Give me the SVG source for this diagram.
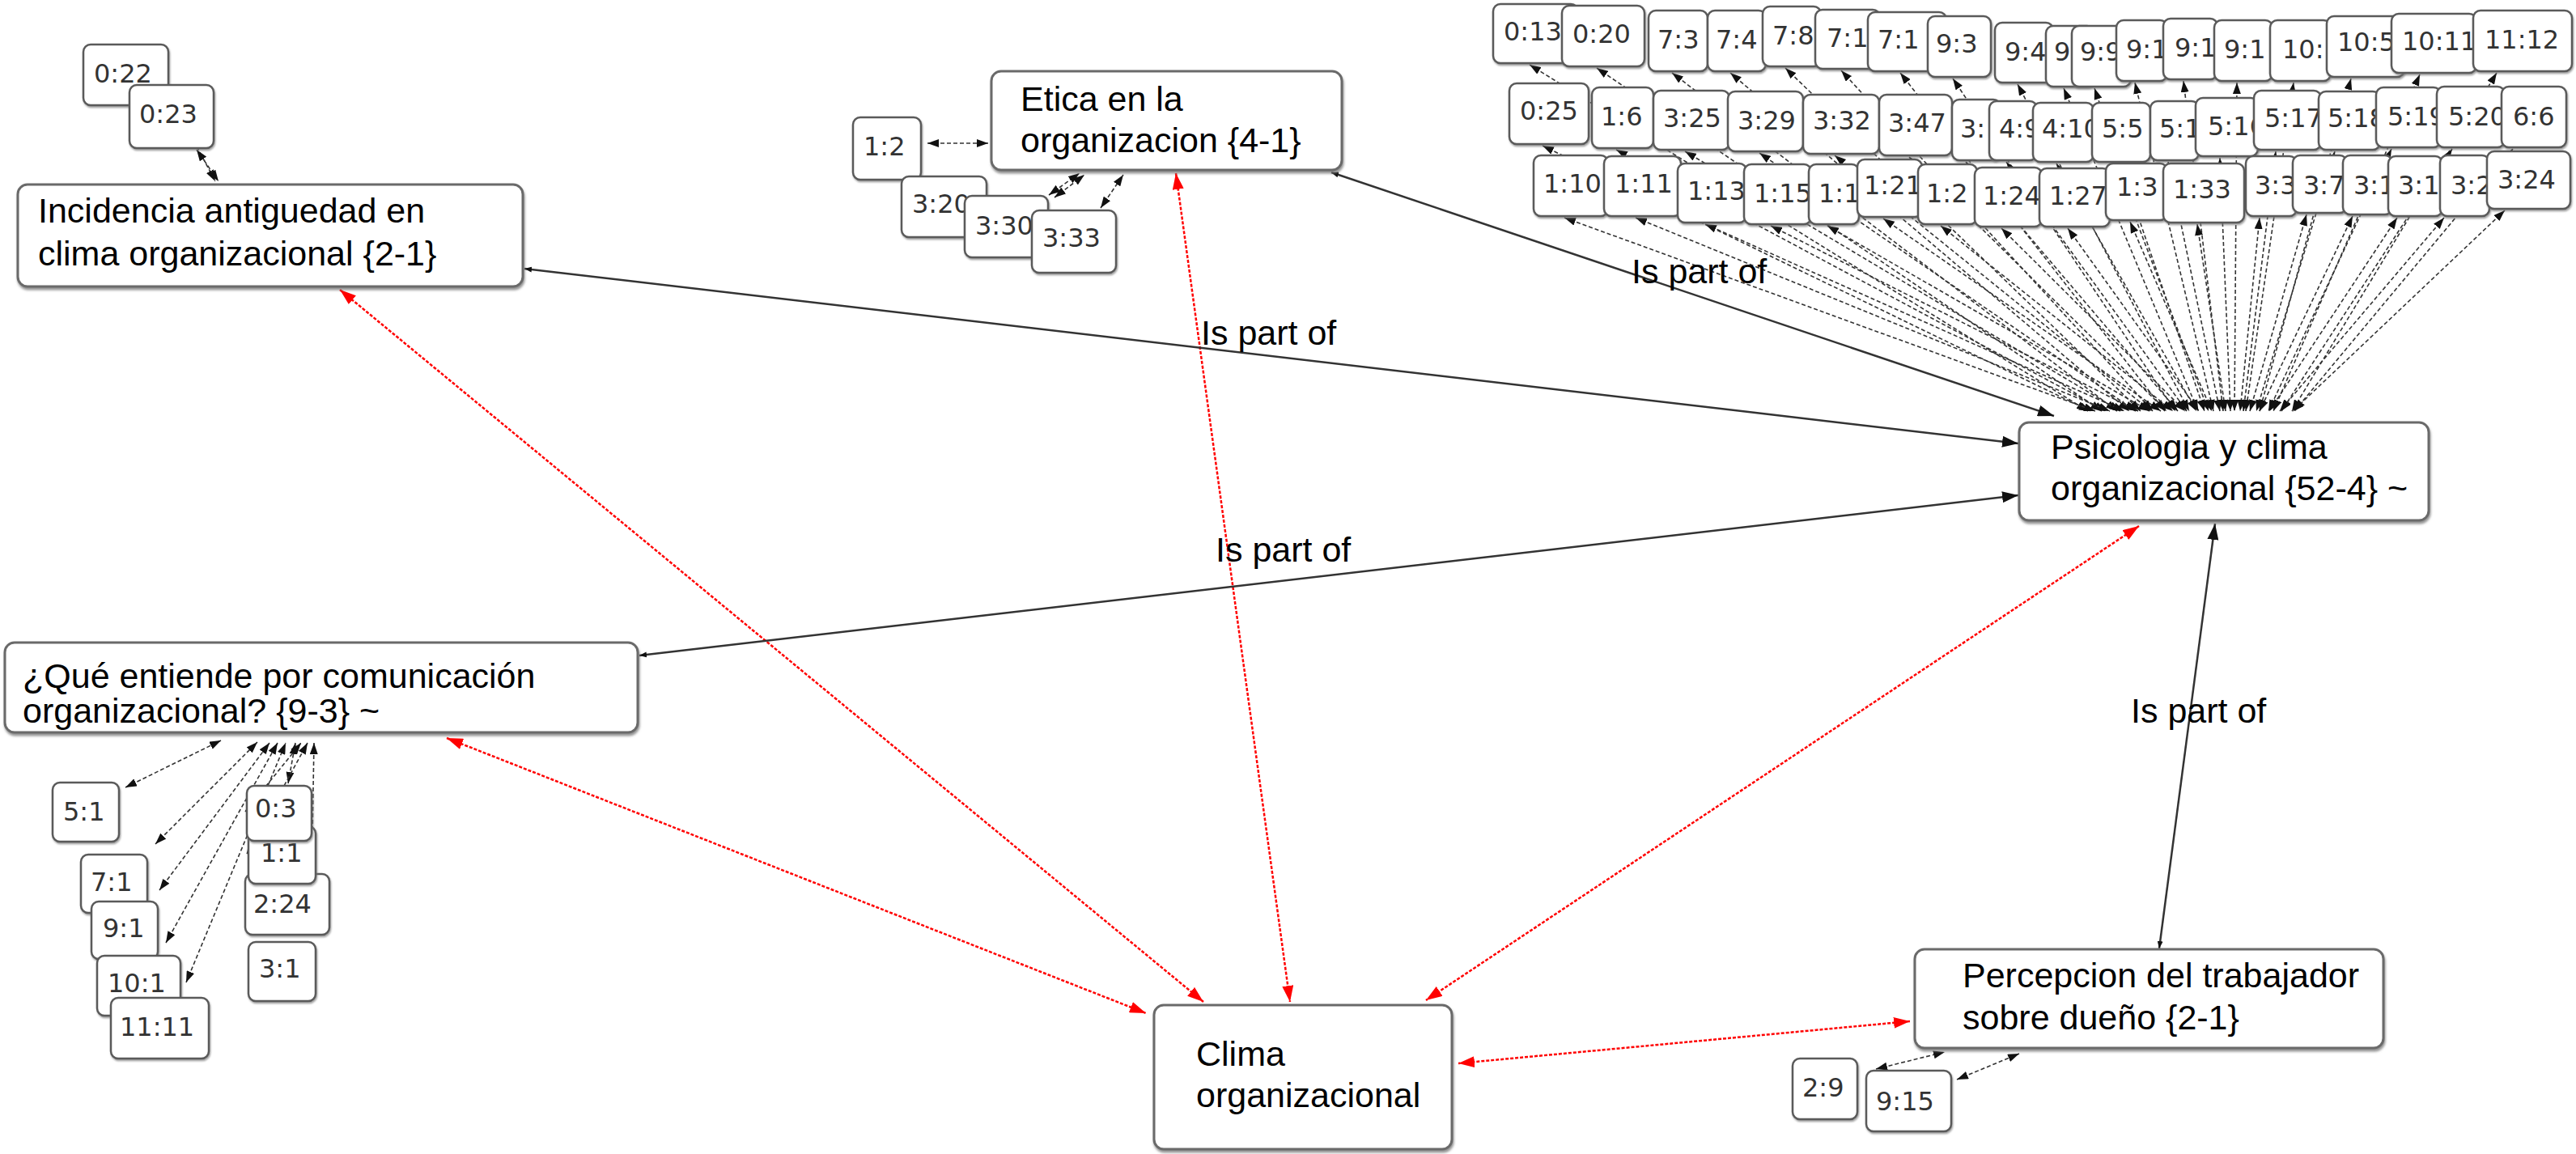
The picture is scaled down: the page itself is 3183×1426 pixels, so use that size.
<svg xmlns="http://www.w3.org/2000/svg" width="3183" height="1426" viewBox="0 0 3183 1426">
<style>
.n rect{fill:#fff;stroke:#6a6a6a;stroke-width:3;filter:url(#sh)}
.n text{font-family:"Liberation Sans",Arial,Helvetica,sans-serif;font-size:43px;fill:#000}
.q rect{fill:#fff;stroke:#5a5a5a;stroke-width:2.5;filter:url(#sh2)}
.q text{font-family:"DejaVu Sans",Verdana,sans-serif;font-size:32px;fill:#333}
.d{fill:none;stroke:#333;stroke-width:1.6;stroke-dasharray:5 3;marker-start:url(#ab);marker-end:url(#ab)}
.r{fill:none;stroke:#f00;stroke-width:2.5;stroke-dasharray:4 2;marker-start:url(#ar);marker-end:url(#ar)}
.p{fill:none;stroke:#333;stroke-width:2.5;marker-start:url(#as);marker-end:url(#abig)}
.l{font-family:"Liberation Sans",Arial,Helvetica,sans-serif;font-size:43px;fill:#000}
</style>
<defs>
<filter id="sh" x="-5%" y="-5%" width="110%" height="115%"><feDropShadow dx="1" dy="3" stdDeviation="1.5" flood-color="#777" flood-opacity="0.8"/></filter>
<filter id="sh2" x="-10%" y="-10%" width="120%" height="125%"><feDropShadow dx="1" dy="2" stdDeviation="1" flood-color="#777" flood-opacity="0.7"/></filter>
<marker id="ab" markerUnits="userSpaceOnUse" markerWidth="14" markerHeight="10" refX="14" refY="5" orient="auto-start-reverse"><path d="M0,0 L14,5 L0,10 z" fill="#111"/></marker>
<marker id="ar" markerUnits="userSpaceOnUse" markerWidth="20" markerHeight="14" refX="20" refY="7" orient="auto-start-reverse"><path d="M0,0 L20,7 L0,14 z" fill="#f00"/></marker>
<marker id="abig" markerUnits="userSpaceOnUse" markerWidth="20" markerHeight="14" refX="20" refY="7" orient="auto"><path d="M0,0 L20,7 L0,14 z" fill="#111"/></marker>
<marker id="as" markerUnits="userSpaceOnUse" markerWidth="9" markerHeight="7" refX="9" refY="3.5" orient="auto-start-reverse"><path d="M0,0 L9,3.5 L0,7 z" fill="#111"/></marker>
</defs>
<rect width="3183" height="1426" fill="#fff"/>
<g id="connectors">
<!-- top cluster fan to Psicologia -->
<line class="d" x1="1890" y1="80" x2="2580" y2="508"/>
<line class="d" x1="1973" y1="84" x2="2597" y2="508"/>
<line class="d" x1="2066" y1="90" x2="2616" y2="508"/>
<line class="d" x1="2138" y1="90" x2="2631" y2="508"/>
<line class="d" x1="2206" y1="84" x2="2645" y2="508"/>
<line class="d" x1="2275" y1="87" x2="2660" y2="508"/>
<line class="d" x1="2348" y1="90" x2="2675" y2="508"/>
<line class="d" x1="2413" y1="97" x2="2688" y2="508"/>
<line class="d" x1="2493" y1="104" x2="2705" y2="508"/>
<line class="d" x1="2550" y1="109" x2="2716" y2="508"/>
<line class="d" x1="2588" y1="109" x2="2724" y2="508"/>
<line class="d" x1="2638" y1="102" x2="2735" y2="508"/>
<line class="d" x1="2698" y1="100" x2="2747" y2="508"/>
<line class="d" x1="2764" y1="102" x2="2761" y2="508"/>
<line class="d" x1="2834" y1="102" x2="2775" y2="508"/>
<line class="d" x1="2905" y1="97" x2="2792" y2="508"/>
<line class="d" x1="2990" y1="92" x2="2809" y2="508"/>
<line class="d" x1="3085" y1="90" x2="2832" y2="508"/>
<line class="d" x1="1906" y1="180" x2="2583" y2="508"/>
<line class="d" x1="1997" y1="185" x2="2602" y2="508"/>
<line class="d" x1="2082" y1="187" x2="2620" y2="508"/>
<line class="d" x1="2174" y1="189" x2="2639" y2="508"/>
<line class="d" x1="2267" y1="192" x2="2658" y2="508"/>
<line class="d" x1="2359" y1="194" x2="2677" y2="508"/>
<line class="d" x1="2429" y1="200" x2="2691" y2="508"/>
<line class="d" x1="2479" y1="200" x2="2702" y2="508"/>
<line class="d" x1="2541" y1="202" x2="2714" y2="508"/>
<line class="d" x1="2613" y1="202" x2="2729" y2="508"/>
<line class="d" x1="2679" y1="200" x2="2743" y2="508"/>
<line class="d" x1="2743" y1="195" x2="2756" y2="508"/>
<line class="d" x1="2812" y1="187" x2="2772" y2="508"/>
<line class="d" x1="2885" y1="187" x2="2788" y2="508"/>
<line class="d" x1="2955" y1="184" x2="2803" y2="508"/>
<line class="d" x1="3030" y1="184" x2="2819" y2="508"/>
<line class="d" x1="3105" y1="184" x2="2835" y2="508"/>
<line class="d" x1="1933" y1="269" x2="2589" y2="508"/>
<line class="d" x1="2021" y1="269" x2="2607" y2="508"/>
<line class="d" x1="2107" y1="277" x2="2625" y2="508"/>
<line class="d" x1="2188" y1="279" x2="2642" y2="508"/>
<line class="d" x1="2258" y1="279" x2="2656" y2="508"/>
<line class="d" x1="2327" y1="270" x2="2670" y2="508"/>
<line class="d" x1="2398" y1="279" x2="2685" y2="508"/>
<line class="d" x1="2473" y1="282" x2="2700" y2="508"/>
<line class="d" x1="2555" y1="282" x2="2717" y2="508"/>
<line class="d" x1="2632" y1="274" x2="2733" y2="508"/>
<line class="d" x1="2715" y1="277" x2="2750" y2="508"/>
<line class="d" x1="2792" y1="269" x2="2768" y2="508"/>
<line class="d" x1="2850" y1="265" x2="2780" y2="508"/>
<line class="d" x1="2907" y1="267" x2="2792" y2="508"/>
<line class="d" x1="2962" y1="269" x2="2804" y2="508"/>
<line class="d" x1="3020" y1="269" x2="2817" y2="508"/>
<line class="d" x1="3095" y1="260" x2="2833" y2="508"/>
<!-- Incidencia quotes -->
<line class="d" x1="232" y1="160" x2="266" y2="224"/>
<line class="d" x1="243" y1="185" x2="270" y2="224"/>
<!-- Etica quotes -->
<line class="d" x1="1146" y1="177" x2="1221" y2="177"/>
<line class="d" x1="1296" y1="241" x2="1334" y2="214"/>
<line class="d" x1="1303" y1="244" x2="1340" y2="216"/>
<line class="d" x1="1360" y1="257" x2="1388" y2="216"/>
<!-- Que quotes -->
<line class="d" x1="155" y1="973" x2="273" y2="915"/>
<line class="d" x1="192" y1="1043" x2="318" y2="917"/>
<line class="d" x1="197" y1="1100" x2="333" y2="918"/>
<line class="d" x1="205" y1="1165" x2="343" y2="918"/>
<line class="d" x1="230" y1="1214" x2="353" y2="918"/>
<line class="d" x1="356" y1="968" x2="365" y2="918"/>
<line class="d" x1="303" y1="1003" x2="372" y2="918"/>
<line class="d" x1="305" y1="1055" x2="380" y2="918"/>
<line class="d" x1="385" y1="1090" x2="388" y2="918"/>
<!-- Percepcion quotes -->
<line class="d" x1="2318" y1="1321" x2="2403" y2="1300"/>
<line class="d" x1="2418" y1="1334" x2="2495" y2="1302"/>
<!-- red relations -->
<line class="r" x1="420" y1="358" x2="1487" y2="1238"/>
<line class="r" x1="552" y1="912" x2="1416" y2="1252"/>
<line class="r" x1="1453" y1="214" x2="1594" y2="1238"/>
<line class="r" x1="2643" y1="650" x2="1762" y2="1236"/>
<line class="r" x1="2360" y1="1262" x2="1802" y2="1314"/>
<!-- Is part of -->
<line class="p" x1="1645" y1="213" x2="2538" y2="514"/>
<line class="p" x1="648" y1="332" x2="2494" y2="548"/>
<line class="p" x1="790" y1="810" x2="2494" y2="612"/>
<line class="p" x1="2668" y1="1172" x2="2737" y2="647"/>
<text class="l" x="2016" y="350">Is part of</text>
<text class="l" x="1484" y="426">Is part of</text>
<text class="l" x="1502" y="694">Is part of</text>
<text class="l" x="2633" y="893">Is part of</text>
</g>
<g id="node-incidencia" class="n"><rect x="22" y="228" width="624" height="126" rx="12"/><text x="47" y="275">Incidencia antiguedad en</text><text x="47" y="328">clima organizacional {2-1}</text></g>
<g id="node-etica" class="n"><rect x="1225" y="88" width="433" height="122" rx="12"/><text x="1261" y="137">Etica en la</text><text x="1261" y="188">organizacion {4-1}</text></g>
<g id="node-psicologia" class="n"><rect x="2495" y="522" width="506" height="121" rx="12"/><text x="2534" y="567">Psicologia y clima</text><text x="2534" y="618">organizacional {52-4} ~</text></g>
<g id="node-que" class="n"><rect x="6" y="794" width="782" height="111" rx="12"/><text x="28" y="850">¿Qué entiende por comunicación</text><text x="28" y="893">organizacional? {9-3} ~</text></g>
<g id="node-clima" class="n"><rect x="1426" y="1242" width="368" height="178" rx="12"/><text x="1478" y="1317">Clima</text><text x="1478" y="1368">organizacional</text></g>
<g id="node-percepcion" class="n"><rect x="2366" y="1173" width="579" height="122" rx="12"/><text x="2425" y="1220">Percepcion del trabajador</text><text x="2425" y="1272">sobre dueño {2-1}</text></g>
<!-- quotation boxes -->
<g id="q-0-22" class="q"><rect x="103" y="55" width="105" height="75" rx="9"/><text x="116" y="102">0:22</text></g>
<g id="q-0-23" class="q"><rect x="160" y="105" width="104" height="78" rx="9"/><text x="172" y="152">0:23</text></g>
<g id="q-1-2" class="q"><rect x="1054" y="145" width="84" height="77" rx="9"/><text x="1067" y="192">1:2</text></g>
<g id="q-3-20" class="q"><rect x="1114" y="218" width="105" height="75" rx="9"/><text x="1127" y="263">3:20</text></g>
<g id="q-3-30" class="q"><rect x="1192" y="242" width="103" height="76" rx="9"/><text x="1205" y="290">3:30</text></g>
<g id="q-3-33" class="q"><rect x="1275" y="260" width="104" height="77" rx="9"/><text x="1288" y="305">3:33</text></g>
<g id="q-5-1" class="q"><rect x="65" y="967" width="82" height="73" rx="9"/><text x="78" y="1014">5:1</text></g>
<g id="q-7-1" class="q"><rect x="100" y="1056" width="82" height="72" rx="9"/><text x="112" y="1101">7:1</text></g>
<g id="q-9-1" class="q"><rect x="113" y="1114" width="82" height="71" rx="9"/><text x="127" y="1158">9:1</text></g>
<g id="q-10-1" class="q"><rect x="120" y="1181" width="103" height="74" rx="9"/><text x="133" y="1226">10:1</text></g>
<g id="q-11-11" class="q"><rect x="137" y="1233" width="121" height="75" rx="9"/><text x="148" y="1280">11:11</text></g>
<g id="q-3-1" class="q"><rect x="307" y="1164" width="83" height="73" rx="9"/><text x="320" y="1208">3:1</text></g>
<g id="q-2-24" class="q"><rect x="303" y="1080" width="104" height="75" rx="9"/><text x="313" y="1128">2:24</text></g>
<g id="q-1-1" class="q"><rect x="307" y="1021" width="83" height="71" rx="9"/><text x="322" y="1065">1:1</text></g>
<g id="q-0-3" class="q"><rect x="305" y="971" width="80" height="68" rx="9"/><text x="315" y="1010">0:3</text></g>
<g id="q-2-9" class="q"><rect x="2215" y="1308" width="80" height="75" rx="9"/><text x="2227" y="1355">2:9</text></g>
<g id="q-9-15" class="q"><rect x="2306" y="1323" width="105" height="75" rx="9"/><text x="2318" y="1372">9:15</text></g>
<!-- top cluster row 1 -->
<g id="q-r1a" class="q"><rect x="1845" y="5" width="105" height="73" rx="9"/><text x="1858" y="50">0:13</text></g>
<g id="q-r1b" class="q"><rect x="1930" y="7" width="102" height="75" rx="9"/><text x="1943" y="53">0:20</text></g>
<g id="q-r1c" class="q"><rect x="2037" y="13" width="73" height="75" rx="9"/><text x="2048" y="60">7:3</text></g>
<g id="q-r1d" class="q"><rect x="2110" y="13" width="72" height="75" rx="9"/><text x="2120" y="60">7:4</text></g>
<g id="q-r1e" class="q"><rect x="2178" y="8" width="72" height="74" rx="9"/><text x="2190" y="55">7:8</text></g>
<g id="q-r1f" class="q"><rect x="2243" y="12" width="80" height="73" rx="9"/><text x="2257" y="58">7:1</text></g>
<g id="q-r1g" class="q"><rect x="2308" y="15" width="97" height="73" rx="9"/><text x="2320" y="60">7:1</text></g>
<g id="q-r1h" class="q"><rect x="2382" y="20" width="78" height="75" rx="9"/><text x="2392" y="65">9:3</text></g>
<g id="q-r1i" class="q"><rect x="2465" y="28" width="72" height="74" rx="9"/><text x="2477" y="75">9:4</text></g>
<g id="q-r1j" class="q"><rect x="2528" y="32" width="60" height="75" rx="9"/><text x="2538" y="75">9</text></g>
<g id="q-r1k" class="q"><rect x="2560" y="32" width="73" height="75" rx="9"/><text x="2570" y="75">9:9</text></g>
<g id="q-r1l" class="q"><rect x="2615" y="25" width="63" height="75" rx="9"/><text x="2627" y="72">9:1</text></g>
<g id="q-r1m" class="q"><rect x="2673" y="23" width="67" height="75" rx="9"/><text x="2687" y="70">9:1</text></g>
<g id="q-r1n" class="q"><rect x="2736" y="25" width="72" height="75" rx="9"/><text x="2748" y="72">9:1</text></g>
<g id="q-r1o" class="q"><rect x="2805" y="25" width="75" height="75" rx="9"/><text x="2820" y="72">10:</text></g>
<g id="q-r1p" class="q"><rect x="2875" y="20" width="96" height="75" rx="9"/><text x="2888" y="63">10:5</text></g>
<g id="q-r1q" class="q"><rect x="2955" y="17" width="105" height="73" rx="9"/><text x="2968" y="62">10:11</text></g>
<g id="q-r1r" class="q"><rect x="3056" y="13" width="122" height="75" rx="9"/><text x="3070" y="60">11:12</text></g>
<!-- row 2 -->
<g id="q-r2a" class="q"><rect x="1865" y="103" width="98" height="75" rx="9"/><text x="1878" y="148">0:25</text></g>
<g id="q-r2b" class="q"><rect x="1967" y="108" width="76" height="75" rx="9"/><text x="1978" y="155">1:6</text></g>
<g id="q-r2c" class="q"><rect x="2043" y="112" width="94" height="73" rx="9"/><text x="2055" y="157">3:25</text></g>
<g id="q-r2d" class="q"><rect x="2135" y="113" width="93" height="74" rx="9"/><text x="2147" y="160">3:29</text></g>
<g id="q-r2e" class="q"><rect x="2228" y="117" width="94" height="73" rx="9"/><text x="2240" y="160">3:32</text></g>
<g id="q-r2f" class="q"><rect x="2322" y="117" width="90" height="75" rx="9"/><text x="2333" y="163">3:47</text></g>
<g id="q-r2g" class="q"><rect x="2412" y="123" width="60" height="75" rx="9"/><text x="2422" y="170">3:</text></g>
<g id="q-r2h" class="q"><rect x="2458" y="125" width="59" height="73" rx="9"/><text x="2470" y="170">4:9</text></g>
<g id="q-r2i" class="q"><rect x="2512" y="127" width="75" height="73" rx="9"/><text x="2523" y="170">4:10</text></g>
<g id="q-r2j" class="q"><rect x="2585" y="127" width="72" height="73" rx="9"/><text x="2597" y="170">5:5</text></g>
<g id="q-r2k" class="q"><rect x="2657" y="125" width="60" height="73" rx="9"/><text x="2668" y="170">5:1</text></g>
<g id="q-r2l" class="q"><rect x="2713" y="121" width="77" height="72" rx="9"/><text x="2728" y="167">5:16</text></g>
<g id="q-r2m" class="q"><rect x="2785" y="112" width="83" height="73" rx="9"/><text x="2798" y="157">5:17</text></g>
<g id="q-r2n" class="q"><rect x="2865" y="113" width="76" height="72" rx="9"/><text x="2876" y="157">5:18</text></g>
<g id="q-r2o" class="q"><rect x="2936" y="108" width="80" height="74" rx="9"/><text x="2950" y="155">5:19</text></g>
<g id="q-r2p" class="q"><rect x="3011" y="107" width="84" height="75" rx="9"/><text x="3025" y="155">5:20</text></g>
<g id="q-r2q" class="q"><rect x="3091" y="107" width="80" height="75" rx="9"/><text x="3105" y="155">6:6</text></g>
<!-- row 3 -->
<g id="q-r3a" class="q"><rect x="1895" y="192" width="92" height="75" rx="9"/><text x="1907" y="238">1:10</text></g>
<g id="q-r3b" class="q"><rect x="1982" y="193" width="95" height="74" rx="9"/><text x="1995" y="238">1:11</text></g>
<g id="q-r3c" class="q"><rect x="2073" y="202" width="85" height="73" rx="9"/><text x="2085" y="247">1:13</text></g>
<g id="q-r3d" class="q"><rect x="2155" y="203" width="83" height="74" rx="9"/><text x="2167" y="250">1:15</text></g>
<g id="q-r3e" class="q"><rect x="2235" y="203" width="62" height="74" rx="9"/><text x="2247" y="250">1:1</text></g>
<g id="q-r3f" class="q"><rect x="2295" y="197" width="80" height="71" rx="9"/><text x="2303" y="240">1:21</text></g>
<g id="q-r3g" class="q"><rect x="2370" y="203" width="73" height="74" rx="9"/><text x="2380" y="250">1:2</text></g>
<g id="q-r3h" class="q"><rect x="2440" y="207" width="83" height="73" rx="9"/><text x="2450" y="253">1:24</text></g>
<g id="q-r3i" class="q"><rect x="2520" y="208" width="87" height="72" rx="9"/><text x="2532" y="253">1:27</text></g>
<g id="q-r3j" class="q"><rect x="2602" y="202" width="76" height="70" rx="9"/><text x="2615" y="242">1:3</text></g>
<g id="q-r3k" class="q"><rect x="2673" y="202" width="100" height="73" rx="9"/><text x="2685" y="245">1:33</text></g>
<g id="q-r3l" class="q"><rect x="2775" y="193" width="63" height="74" rx="9"/><text x="2786" y="240">3:3</text></g>
<g id="q-r3m" class="q"><rect x="2833" y="192" width="67" height="71" rx="9"/><text x="2846" y="240">3:7</text></g>
<g id="q-r3n" class="q"><rect x="2895" y="192" width="61" height="73" rx="9"/><text x="2908" y="240">3:1</text></g>
<g id="q-r3o" class="q"><rect x="2951" y="193" width="67" height="74" rx="9"/><text x="2963" y="240">3:1</text></g>
<g id="q-r3p" class="q"><rect x="3015" y="192" width="61" height="75" rx="9"/><text x="3028" y="240">3:2</text></g>
<g id="q-r3q" class="q"><rect x="3073" y="187" width="103" height="71" rx="9"/><text x="3086" y="233">3:24</text></g>
</svg>
